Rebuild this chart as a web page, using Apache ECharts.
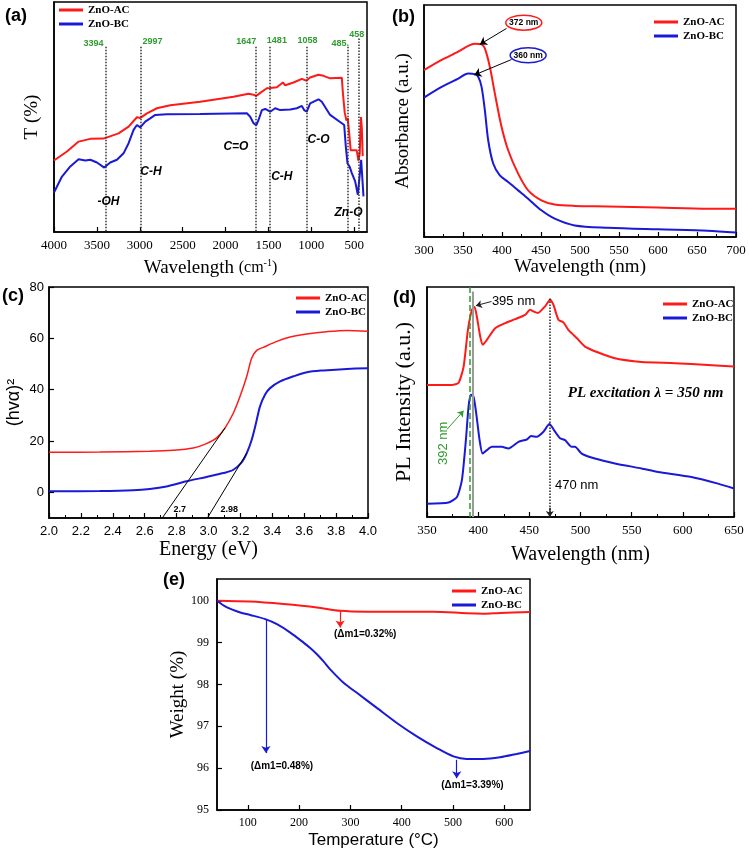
<!DOCTYPE html>
<html><head><meta charset="utf-8">
<script src="https://cdn.jsdelivr.net/npm/echarts@6/dist/echarts.min.js"></script>
<style>html,body{margin:0;padding:0;background:#fff}#c{width:749px;height:853px}#err{position:absolute;left:0;top:0;font:10px monospace;white-space:pre;color:#900}</style>
</head><body><div id="c"></div><div id="err"></div>
<script>
// ---------- DATA ----------
const ftirAC = [[4000,31.1],[3849,35.0],[3713,39.3],[3577,40.5],[3422,40.6],[3247,42.9],[3130,45.8],[3033,49.9],[2994,49.6],[2916,51.6],[2800,53.8],[2644,55.1],[2295,56.6],[1906,58.8],[1732,60.1],[1673,59.7],[1642,59.1],[1595,60.5],[1518,62.5],[1479,62.6],[1401,62.9],[1331,65.0],[1304,63.8],[1207,65.0],[1110,66.6],[1059,65.8],[1013,67.2],[916,68.4],[857,67.9],[780,66.8],[644,67.1],[630,60],[610,52],[590,48.5],[575,49.5],[560,44],[540,35.5],[500,35.5],[470,35.5],[450,31],[435,34],[420,50],[410,45],[400,33]];
const ftirBC = [[4000,17.2],[3907,24.1],[3810,28.5],[3713,31.6],[3635,31.1],[3577,31.4],[3499,30.2],[3414,28.0],[3344,30.2],[3266,31.4],[3189,34.2],[3130,38.6],[3072,44.4],[3033,46.5],[2994,45.5],[2936,48.0],[2878,49.4],[2819,50.9],[2683,51.2],[2295,51.3],[1751,51.6],[1712,50.1],[1673,47.3],[1642,46.4],[1615,48.7],[1576,53.0],[1537,53.5],[1479,52.3],[1421,53.8],[1362,53.0],[1246,53.3],[1168,53.8],[1110,54.8],[1083,53.0],[1052,52.3],[1013,55.9],[916,57.7],[877,56.6],[780,50.9],[644,47.3],[616,46.5],[597,37.1],[578,29.9],[554,28.5],[527,25.6],[488,22.0],[457,16.2],[438,16.9],[418,31.4],[403,31.4],[391,15.5]];
const ftirTicks = [500,1000,1500,2000,2500,3000,3500,4000];
const ftirPeakPos = [3398,2994,1642,1479,1051,578,450];
const ftirPeakTop = [80.5,80.5,80.5,80.5,80.5,80.5,84.1];
const ftirPeakText = ['3394','2997','1647','1481','1058','485.','458'];
const ftirPeakLabelX = [3538,2850,1759,1401,1044,663,469];
const ftirPeakLabelY = [81.9,82.7,82.7,83.1,83.1,81.9,85.8];
const ftirBondText = ['-OH','C-H','C=O','C-H','C-O','Zn-O'];
const ftirBondX = [3364,2870,1879,1343,916,566];
const ftirBondY = [13.3,26.3,37.1,24.1,40.0,8.2];

const uvAC = [[300,71.9],[322.6,76.3],[343.9,79.9],[356.7,82.4],[365.2,83.3],[373.8,83.0],[378,81.3],[384.4,73.4],[390.8,61.9],[399.4,47.5],[407.9,37.4],[420.7,27.3],[433.5,20.1],[450.5,15.8],[467.6,14.0],[493.2,13.4],[535.8,13.2],[599.8,12.7],[663.8,12.2],[700,12.2]];
const uvBC = [[300,60.1],[322.6,64.7],[343.9,68.3],[356.7,70.5],[365.2,70.2],[369.5,69.1],[373.8,64.7],[378,54.7],[382.3,41.7],[388.7,31.7],[397.2,26.6],[407.9,23.7],[420.7,20.1],[433.5,16.5],[450.5,11.5],[467.6,7.9],[493.2,5.0],[535.8,4.0],[599.8,3.3],[663.8,2.7],[700,1.9]];
const uvNotes = ['372 nm','360 nm'];
const uvNoteAt = [[427.9,92.4],[433.5,78.3]];
const uvArrowFrom = [[405.8,89.9],[412.2,76.5]];
const uvArrowTo = [[371.6,83.0],[364.4,69.8]];

const taucAC = [[2.0,15.6],[2.318,15.7],[2.632,16.0],[2.779,16.4],[2.905,17.3],[2.988,19.0],[3.051,21.2],[3.104,25.1],[3.156,30.9],[3.198,37.4],[3.24,45.2],[3.271,52.3],[3.302,55.3],[3.344,56.5],[3.428,58.8],[3.512,60.5],[3.617,61.7],[3.742,62.6],[3.868,63.1],[4.0,62.8]];
const taucBC = [[2.0,0.4],[2.318,0.5],[2.528,0.8],[2.632,1.3],[2.737,2.3],[2.863,4.3],[2.988,6.0],[3.093,7.5],[3.156,8.8],[3.208,11.7],[3.24,15.3],[3.271,20.5],[3.298,27.0],[3.323,33.5],[3.355,38.1],[3.386,40.6],[3.449,43.2],[3.533,45.2],[3.617,46.8],[3.721,47.5],[3.868,48.1],[4.0,48.3]];
const taucTangents = [[[2.71,-10],[3.104,25.1]],[[2.993,-10],[3.24,15.3]]];
const taucGapText = ['2.7','2.98'];
const taucGapLabelAt = [[2.82,-6.8],[3.13,-6.8]];
const taucYTicks = [0,20,40,60,80];

const plAC = [[350,57.4],[374.4,57.4],[380.9,58.4],[385.8,65.4],[390,81.4],[393.9,90.1],[396.5,91.3],[398.7,87.2],[402,78.5],[404.6,74.9],[408.5,77],[416.6,82.1],[426.4,84.3],[436.1,86],[445.9,87.9],[450.8,90.1],[454,89.4],[458.2,88.7],[465.4,91.6],[470.3,94.5],[473.5,92.3],[478.4,85.8],[483.3,84.6],[488.1,81.4],[492.4,79.5],[496.3,77.8],[504.4,74.1],[517.4,71.5],[533.6,69.0],[559.6,67.4],[592.1,66.9],[624.6,66.1],[650,65.4]];
const plBC = [[350,5.8],[371.1,6.3],[379.3,8.7],[384.1,16.0],[388,33.4],[390.6,48.0],[392.9,53.1],[395.5,52.3],[398.1,45.1],[401.4,33.4],[404.3,27.6],[408.5,29.1],[413.4,30.5],[423.1,30.5],[429.6,29.8],[439.4,32.7],[447.5,33.7],[451.7,35.2],[457.3,34.9],[463.8,37.1],[469.6,40.4],[475.1,37.1],[480,34.2],[484.9,33.4],[491.4,30.5],[494.6,30.5],[501.1,27.6],[514.1,25.4],[533.6,23.3],[559.6,21.1],[575.9,19.6],[608.4,17.4],[634.4,14.5],[650,12.4]];
const plGreenLine = 392, plGrayLine = 395, plDotLine = 470;
const plTexts = ['395 nm','470 nm','392 nm','PL excitation \u03bb = 350 nm'];
const plTextAt = [[413.4,93.7],[475.1,13.8],[365.6,32],[563.6,53.8]];
const plArrow395 = [[413.0,93.7],[397.8,91.9]];
const plArrow392 = [[369.5,38.1],[385.8,46.2]];
const plArrow470 = [[470,4],[470,0]];

const tgaAC = [[40,100.0],[104.9,99.98],[169.8,99.92],[234.7,99.84],[280.1,99.76],[332,99.74],[396.9,99.74],[461.8,99.74],[526.7,99.70],[559.1,99.69],[591.6,99.71],[650,99.73]];
const tgaBC = [[40,100.0],[59.5,99.84],[85.4,99.72],[104.9,99.66],[134.1,99.56],[156.8,99.44],[182.8,99.24],[208.7,99.0],[221.7,98.87],[234.7,98.72],[247.6,98.55],[260.6,98.36],[286.6,98.04],[312.6,97.8],[351.5,97.44],[390.5,97.08],[429.4,96.76],[468.3,96.48],[500.8,96.28],[526.7,96.22],[559.1,96.22],[591.6,96.26],[624,96.34],[650,96.41]];
const tgaXTicks = [100,200,300,400,500,600];
const tgaYTicks = [95,96,97,98,99,100];
const tgaArrows = [[[280,99.76],[280,99.36]],[[135.4,99.56],[135.4,96.36]],[[507.2,96.2],[507.2,95.76]]];
const tgaTexts = ['(\u0394m1=0.32%)','(\u0394m1=0.48%)','(\u0394m1=3.39%)'];
const tgaTextAt = [[328.8,99.2],[166.5,96.04],[537.7,95.6]];

const RED = '#ff1a1a', BLUE = '#1a1ad6', GREEN = '#2e9b2e';
const SERIF = 'Liberation Serif', SANS = 'Liberation Sans';
try {
function merge(){const o={};for(const b of arguments){for(const k in b){const v=b[k];
  if(v&&typeof v==='object'&&!Array.isArray(v)&&o[k]&&typeof o[k]==='object'&&!Array.isArray(o[k]))o[k]=merge(o[k],v);else o[k]=v;}}return o;}

const baseAxis = {
  type:'value', splitLine:{show:false},
  axisLine:{show:true,onZero:false,lineStyle:{color:'#000',width:1.5}},
  axisTick:{show:true,inside:true,length:5,lineStyle:{color:'#000',width:1.2}},
  axisLabel:{color:'#000',fontFamily:SERIF,fontSize:13,margin:7},
  nameLocation:'middle',
  nameTextStyle:{color:'#000',fontFamily:SERIF,fontSize:19}
};
const minor = {minorTick:{show:true,splitNumber:2,length:3,lineStyle:{color:'#000',width:1}}};
const hiddenY = {axisLabel:{show:false},axisTick:{show:false}};

const grids = [
  {left:54, top:2, width:313, height:230},
  {left:424, top:5, width:312, height:232},
  {left:49, top:287, width:319, height:231},
  {left:427, top:287, width:307, height:230},
  {left:217, top:579, width:313, height:231}
].map(g=>Object.assign({show:true,borderColor:'#000',borderWidth:1.5,backgroundColor:'#fff'},g));

const plain = v=>String(v);
const xAxis = [
  merge(baseAxis,{gridIndex:0,inverse:true,min:350,max:4000,
    axisLabel:{customValues:ftirTicks,formatter:plain},axisTick:{customValues:ftirTicks},
    name:'Wavelength {s|(cm}{sup|-1}{s|)}',nameGap:26,
    nameTextStyle:{rich:{s:{fontFamily:SERIF,fontSize:16,color:'#000'},sup:{fontFamily:SERIF,fontSize:10,color:'#000',verticalAlign:'top',padding:[0,0,10,0]}}}}),
  merge(baseAxis,minor,{gridIndex:1,min:300,max:700,interval:50,axisLabel:{formatter:plain},name:'Wavelength (nm)',nameGap:21}),
  merge(baseAxis,minor,{gridIndex:2,min:2,max:4,interval:0.2,
    axisLabel:{fontFamily:SANS,formatter:v=>v.toFixed(1)},name:'Energy (eV)',nameGap:22,nameTextStyle:{fontSize:20}}),
  merge(baseAxis,minor,{gridIndex:3,min:350,max:650,interval:50,axisLabel:{formatter:plain},name:'Wavelength (nm)',nameGap:28,nameTextStyle:{fontSize:20}}),
  merge(baseAxis,{gridIndex:4,min:40,max:650,axisLabel:{customValues:tgaXTicks,fontSize:12,formatter:plain},axisTick:{customValues:tgaXTicks},
    name:'Temperature (\u00b0C)',nameGap:22,nameTextStyle:{fontFamily:SANS,fontSize:17}})
];
const yAxis = [
  merge(baseAxis,hiddenY,{gridIndex:0,min:0,max:100,name:'T (%)',nameGap:12}),
  merge(baseAxis,hiddenY,{gridIndex:1,min:0,max:100,name:'Absorbance (a.u.)',nameGap:11,nameTextStyle:{fontSize:19}}),
  merge(baseAxis,{gridIndex:2,min:-10,max:80,axisLabel:{customValues:taucYTicks,fontFamily:SANS,margin:5},axisTick:{customValues:taucYTicks},
    name:'(hv\u03b1)\u00b2',nameGap:26,nameTextStyle:{fontFamily:SANS,fontSize:18}}),
  merge(baseAxis,hiddenY,{gridIndex:3,min:0,max:100,name:'PL Intensity (a.u.)',nameGap:12,nameTextStyle:{fontSize:22}}),
  merge(baseAxis,{gridIndex:4,min:95,max:100.52,axisLabel:{customValues:tgaYTicks,fontSize:12,margin:8},axisTick:{customValues:tgaYTicks},
    name:'Weight (%)',nameGap:28})
];

function line(name,gi,data,color,extra){
  return Object.assign({type:'line',name,xAxisIndex:gi,yAxisIndex:gi,data,showSymbol:false,symbol:'none',
    lineStyle:{width:2,color},itemStyle:{color},z:3},extra||{});
}
function seg(p,q,ls){const a={coord:p};if(ls)a.lineStyle=ls;return [a,{coord:q}];}

const series = [
  line('ZnO-AC',0,ftirAC,RED,{markLine:{silent:true,symbol:'none',label:{show:false},lineStyle:{type:'dotted',color:'#333',width:1.5},
    data:ftirPeakPos.map((x,i)=>seg([x,ftirPeakTop[i]],[x,0]))}}),
  line('ZnO-BC',0,ftirBC,BLUE),
  line('ZnO-AC',1,uvAC,RED,{smooth:0.3,markLine:{silent:true,symbol:['none','arrow'],symbolSize:7,label:{show:false},lineStyle:{type:'solid',color:'#000',width:1},
    data:uvArrowFrom.map((p,i)=>seg(p,uvArrowTo[i]))}}),
  line('ZnO-BC',1,uvBC,BLUE,{smooth:0.3}),
  line('ZnO-AC',2,taucAC,RED,{smooth:0.3,lineStyle:{width:1.5,color:RED},markLine:{silent:true,symbol:'none',label:{show:false},lineStyle:{type:'solid',color:'#000',width:1},
    data:taucTangents.map(t=>seg(t[0],t[1]))}}),
  line('ZnO-BC',2,taucBC,BLUE,{smooth:0.3}),
  line('ZnO-AC',3,plAC,RED,{smooth:0.2,markLine:{silent:true,symbol:'none',label:{show:false},lineStyle:{type:'dashed',color:GREEN,width:1.5},
    data:[seg([plGreenLine,100],[plGreenLine,0]),
          seg([plGrayLine,98],[plGrayLine,0],{type:'solid',color:'#9a9a9a',width:2}),
          seg([plDotLine,95],[plDotLine,0],{type:'dotted',color:'#222',width:1.5})]}}),
  line('ZnO-BC',3,plBC,BLUE,{smooth:0.2,markLine:{silent:true,symbol:['none','arrow'],symbolSize:6,label:{show:false},lineStyle:{type:'solid',color:'#222',width:1},
    data:[seg(plArrow395[0],plArrow395[1]),seg(plArrow392[0],plArrow392[1],{type:'solid',color:GREEN,width:1}),
          seg(plArrow470[0],plArrow470[1],{type:'solid',color:'#222',width:1.5})]}}),
  line('ZnO-AC',4,tgaAC,RED,{smooth:0.3,markLine:{silent:true,symbol:['none','arrow'],symbolSize:7,label:{show:false},lineStyle:{type:'solid',color:RED,width:1.2},
    data:[seg(tgaArrows[0][0],tgaArrows[0][1])]}}),
  line('ZnO-BC',4,tgaBC,BLUE,{smooth:0.3,markLine:{silent:true,symbol:['none','arrow'],symbolSize:7,label:{show:false},lineStyle:{type:'solid',color:BLUE,width:1.2},
    data:[seg(tgaArrows[1][0],tgaArrows[1][1]),seg(tgaArrows[2][0],tgaArrows[2][1])]}})
];

function lg(left,top){return {left,top,orient:'vertical',padding:0,itemGap:0,itemWidth:24,itemHeight:3,icon:'rect',selectedMode:false,
  data:['ZnO-AC','ZnO-BC'],textStyle:{fontFamily:SERIF,fontWeight:'bold',fontSize:11,color:'#000',lineHeight:14}};}

const option = {
  animation:false, backgroundColor:'#fff',
  grid:grids, xAxis, yAxis, series,
  legend:[lg(59,3),lg(654,15),lg(296,291),lg(663,297),lg(452,584)]
};

var chart = echarts.init(document.getElementById('c'),null,{renderer:'canvas'});
chart.setOption(option);

const P = (gi,pt)=>chart.convertToPixel({xAxisIndex:gi,yAxisIndex:gi},pt);
const g = [];
function txt(gi,pt,text,style,rot){const p=P(gi,pt);const o={type:'text',x:p[0],y:p[1],z:50,silent:true,
  style:Object.assign({text,fill:'#000',align:'center',verticalAlign:'middle'},style)};if(rot)o.rotation=rot;g.push(o);}

[['(a)',5,7],['(b)',392,8],['(c)',2,287],['(d)',393,289],['(e)',163,571]].forEach(d=>{
  g.push({type:'text',x:d[1],y:d[2],z:50,style:{text:d[0],font:'bold 18px '+SANS,fill:'#000'}});
});
ftirPeakText.forEach((t,i)=>txt(0,[ftirPeakLabelX[i],ftirPeakLabelY[i]],t,{font:'bold 9px '+SANS,fill:GREEN}));
ftirBondText.forEach((t,i)=>txt(0,[ftirBondX[i],ftirBondY[i]],t,{font:'italic bold 12px '+SANS}));
uvNotes.forEach((t,i)=>{const p=P(1,uvNoteAt[i]);
  g.push({type:'ellipse',z:49,silent:true,shape:{cx:p[0],cy:p[1],rx:18,ry:7.5},style:{fill:'#fff',stroke:i===0?RED:BLUE,lineWidth:1.5}});
  txt(1,uvNoteAt[i],t,{font:'bold 8.5px '+SANS});
});
taucGapText.forEach((t,i)=>txt(2,taucGapLabelAt[i],t,{font:'bold 9px '+SANS}));
txt(3,plTextAt[0],plTexts[0],{font:'13px '+SANS,align:'left'});
txt(3,plTextAt[1],plTexts[1],{font:'13px '+SANS,align:'left'});
txt(3,plTextAt[2],plTexts[2],{font:'13px '+SANS,fill:GREEN},Math.PI/2);
txt(3,plTextAt[3],plTexts[3],{font:'italic bold 15px '+SERIF});
tgaTexts.forEach((t,i)=>txt(4,tgaTextAt[i],t,{font:'bold 10px '+SANS}));

chart.setOption({graphic:g});
} catch(e){ document.getElementById('err').textContent = String(e && e.stack || e); }
</script></body></html>
